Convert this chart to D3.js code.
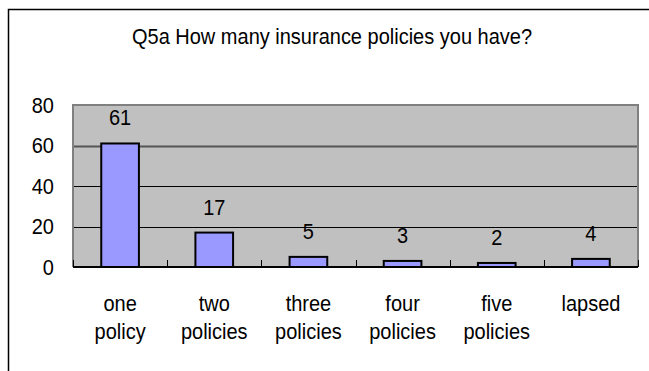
<!DOCTYPE html>
<html>
<head>
<meta charset="utf-8">
<script src="https://cdn.jsdelivr.net/npm/d3@7"></script>
<style>
  html, body { margin: 0; padding: 0; background: #fff; }
  svg { display: block; font-family: "Liberation Sans", Arial, sans-serif; }
</style>
</head>
<body>
<svg id="chart" width="649" height="371"></svg>
<script>
const title = "Q5a How many insurance policies you have?";
const categories = [["one", "policy"], ["two", "policies"], ["three", "policies"], ["four", "policies"], ["five", "policies"], ["lapsed"]];
const counts = [61, 17, 5, 3, 2, 4];
const yTicks = [0, 20, 40, 60, 80];

const svg = d3.select("#chart");
const plot = { left: 73, right: 638, top: 105, bottom: 267 };
const textStretch = 1.1;   // slightly tall lettering

// position a text element at (px, py) with a little vertical stretch
function place(sel, px, py) {
  sel.attr("x", 0).attr("y", 0)
    .attr("transform", (d, i) => {
      const tx = typeof px === "function" ? px(d, i) : px;
      const ty = typeof py === "function" ? py(d, i) : py;
      return `translate(${tx},${ty}) scale(1,${textStretch})`;
    });
  return sel;
}

// outer chart frame (continues past the right and bottom edges)
svg.append("rect")
  .attr("x", 8.5).attr("y", 9.5)
  .attr("width", 700).attr("height", 400)
  .attr("fill", "#fff").attr("stroke", "#000").attr("stroke-width", 1.5);

place(svg.append("text"), 332, 44)
  .attr("text-anchor", "middle")
  .attr("font-size", 20)
  .text(title);

const x = d3.scaleBand()
  .domain(d3.range(categories.length))
  .range([plot.left, plot.right])
  .padding(0);

const y = d3.scaleLinear().domain([0, 80]).range([plot.bottom, plot.top]);

// plot background
svg.append("rect")
  .attr("x", plot.left).attr("y", plot.top)
  .attr("width", plot.right - plot.left).attr("height", plot.bottom - plot.top)
  .attr("fill", "#c0c0c0");

// horizontal gridlines
svg.append("g").selectAll("line")
  .data(yTicks.filter(t => t > 0 && t < 80))
  .join("line")
  .attr("x1", plot.left).attr("x2", plot.right)
  .attr("y1", d => Math.round(y(d)) + 0.5).attr("y2", d => Math.round(y(d)) + 0.5)
  .attr("stroke", d => d === 60 ? "#555" : "#000")
  .attr("stroke-width", d => d === 60 ? 1.8 : 1);

// plot border
svg.append("path")
  .attr("d", `M${plot.left},${plot.bottom} V${plot.top} H${plot.right} V${plot.bottom}`)
  .attr("fill", "none").attr("stroke", "#808080").attr("stroke-width", 2);

// y axis labels
const yAxis = d3.axisLeft(y).tickValues(yTicks).tickSize(0).tickPadding(19);
const gy = svg.append("g").attr("transform", `translate(${plot.left},0)`).call(yAxis);
gy.select(".domain").remove();
gy.selectAll("text")
  .attr("font-size", 20)
  .attr("font-family", "Liberation Sans, Arial, sans-serif")
  .attr("fill", "#000")
  .attr("dy", "0.34em")
  .attr("transform", `scale(1,${textStretch})`);

// bars
const barW = x.bandwidth() * 0.4;
svg.append("g").selectAll("rect")
  .data(counts)
  .join("rect")
  .attr("x", (d, i) => x(i) + (x.bandwidth() - barW) / 2)
  .attr("y", d => y(d))
  .attr("width", barW)
  .attr("height", d => y(0) - y(d))
  .attr("fill", "#9999ff")
  .attr("stroke", "#000")
  .attr("stroke-width", 2);

// value labels
place(svg.append("g").selectAll("text")
  .data(counts)
  .join("text"),
  (d, i) => x(i) + x.bandwidth() / 2,
  d => y(d) - 18)
  .attr("text-anchor", "middle")
  .attr("font-size", 20)
  .text(d => d);

// x axis line with inward ticks between categories
const gx = svg.append("g").attr("transform", `translate(0,${plot.bottom})`);
gx.append("line")
  .attr("x1", plot.left).attr("x2", plot.right)
  .attr("y1", 0).attr("y2", 0)
  .attr("stroke", "#000").attr("stroke-width", 2);
gx.selectAll("line.tick")
  .data(d3.range(categories.length + 1))
  .join("line")
  .attr("class", "tick")
  .attr("x1", i => Math.round(plot.left + i * x.step()) + 0.5)
  .attr("x2", i => Math.round(plot.left + i * x.step()) + 0.5)
  .attr("y1", 0).attr("y2", -7)
  .attr("stroke", "#000").attr("stroke-width", 1);

// category labels on two lines
const catLines = categories.flatMap((lines, i) => lines.map((line, j) => ({ line, i, j })));
place(svg.append("g").selectAll("text")
  .data(catLines)
  .join("text"),
  d => x(d.i) + x.bandwidth() / 2,
  d => 311 + d.j * 28)
  .attr("text-anchor", "middle")
  .attr("font-size", 20)
  .text(d => d.line);
</script>
</body>
</html>
